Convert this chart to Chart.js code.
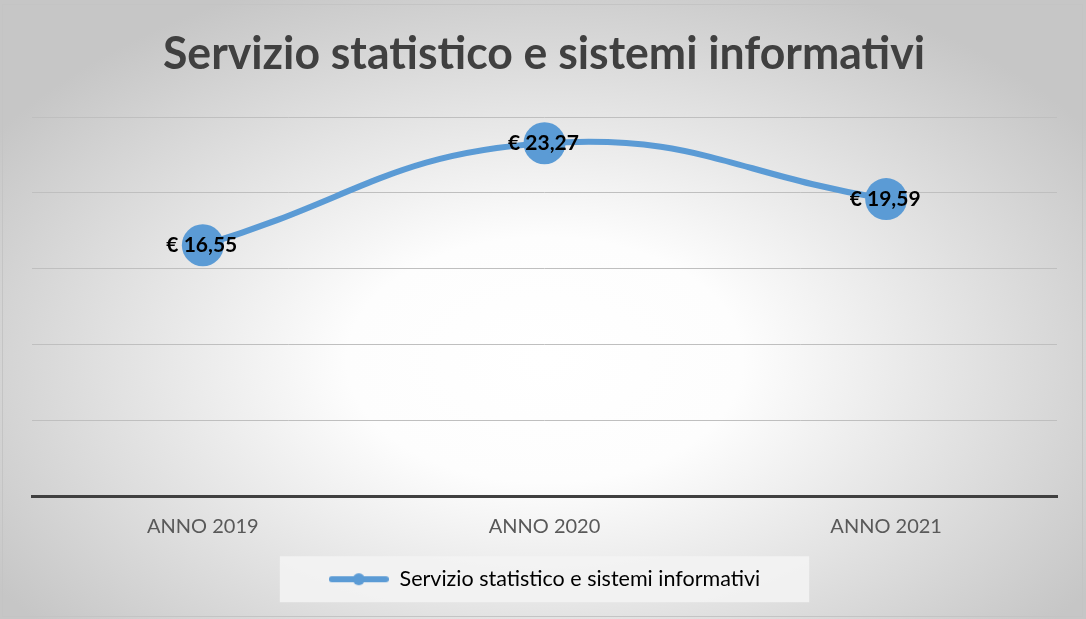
<!DOCTYPE html>
<html lang="it">
<head>
    <meta charset="UTF-8">
    <title>Servizio statistico e sistemi informativi</title>
    <script src="https://cdn.jsdelivr.net/npm/chart.js"></script>
    <style>
        html, body {
            margin: 0;
            padding: 0;
            background: #ffffff;
        }
        #wrap {
            width: 1086px;
            height: 619px;
        }
    </style>
</head>
<body>
    <div id="wrap"><canvas id="chart"></canvas></div>

    <script>
        // dati
        const titolo = 'Servizio statistico e sistemi informativi';
        const anni = ['ANNO 2019', 'ANNO 2020', 'ANNO 2021'];
        const costi = [16.55, 23.27, 19.59];

        const blu = '#5b9bd5';
        const fontFamily = 'Lato, "Open Sans", sans-serif';

        // sfondo sfumato e cornice
        const sfondo = {
            id: 'sfondo',
            beforeDraw(chart) {
                const { ctx, width, height } = chart;
                ctx.save();
                ctx.fillStyle = '#ffffff';
                ctx.fillRect(0, 0, width, height);
                const cx = 545, cy = 360, sy = 0.62;
                ctx.translate(cx, cy);
                ctx.scale(1, sy);
                const g = ctx.createRadialGradient(0, 0, 0, 0, 0, 660);
                g.addColorStop(0, '#ffffff');
                g.addColorStop(0.3, '#fdfdfd');
                g.addColorStop(1, '#c6c6c6');
                ctx.fillStyle = g;
                ctx.fillRect(-cx, -cy / sy, width, height / sy);
                ctx.restore();

                ctx.save();
                ctx.strokeStyle = '#c4c4c4';
                ctx.lineWidth = 1;
                ctx.strokeRect(2.5, 4.5, 1080, 612);
                ctx.restore();

                // riquadro della legenda
                const lg = chart.legend;
                if (lg && lg.legendHitBoxes.length) {
                    const hb = lg.legendHitBoxes[0];
                    ctx.save();
                    ctx.fillStyle = 'rgba(243,243,243,0.9)';
                    ctx.fillRect(hb.left - 49, hb.top + hb.height / 2 - 23, hb.width + 98, 46);
                    ctx.restore();
                }
            },
            afterDraw(chart) {
                // titolo, compresso in larghezza come un carattere stretto
                const { ctx } = chart;
                ctx.save();
                ctx.font = 'bold 46px ' + fontFamily;
                ctx.fillStyle = '#404040';
                ctx.textBaseline = 'middle';
                ctx.textAlign = 'center';
                const w = ctx.measureText(titolo).width;
                const k = 762 / w;
                ctx.translate(544, 54);
                ctx.scale(k, 1);
                ctx.fillText(titolo, 0, 0);
                ctx.restore();
            }
        };

        // etichette dei valori sopra i punti
        const etichette = {
            id: 'etichette',
            afterDatasetsDraw(chart) {
                const { ctx } = chart;
                const meta = chart.getDatasetMeta(0);
                ctx.save();
                ctx.font = 'bold 21px ' + fontFamily;
                ctx.fillStyle = '#000000';
                ctx.textAlign = 'center';
                ctx.textBaseline = 'middle';
                meta.data.forEach((p, i) => {
                    const testo = '€ ' + costi[i].toFixed(2).replace('.', ',');
                    ctx.fillText(testo, p.x - 1, p.y);
                });
                ctx.restore();
            }
        };

        // simbolo della legenda: linea con pallino
        const simbolo = document.createElement('canvas');
        simbolo.width = 60;
        simbolo.height = 14;
        (function () {
            const c = simbolo.getContext('2d');
            c.strokeStyle = blu;
            c.lineWidth = 6;
            c.lineCap = 'round';
            c.beginPath();
            c.moveTo(3, 7);
            c.lineTo(57, 7);
            c.stroke();
            c.fillStyle = blu;
            c.beginPath();
            c.arc(30, 7, 6, 0, Math.PI * 2);
            c.fill();
        })();

        const ctx = document.getElementById('chart').getContext('2d');
        new Chart(ctx, {
            type: 'line',
            data: {
                labels: anni,
                datasets: [{
                    label: titolo,
                    data: costi,
                    borderColor: blu,
                    backgroundColor: blu,
                    borderWidth: 6,
                    pointRadius: 21,
                    pointHoverRadius: 21,
                    pointBorderWidth: 0,
                    pointBackgroundColor: blu,
                    tension: 0.45,
                    fill: false
                }]
            },
            plugins: [sfondo, etichette],
            options: {
                responsive: true,
                maintainAspectRatio: false,
                animation: false,
                layout: {
                    padding: { top: 117, left: 32, right: 29, bottom: 19 }
                },
                plugins: {
                    title: { display: false },
                    tooltip: { enabled: false },
                    legend: {
                        position: 'bottom',
                        labels: {
                            usePointStyle: true,
                            pointStyleWidth: 60,
                            padding: 20,
                            color: '#404040',
                            font: { family: fontFamily, size: 21.5 },
                            generateLabels: (chart) => [{
                                text: titolo,
                                pointStyle: simbolo,
                                fillStyle: blu,
                                strokeStyle: blu,
                                lineWidth: 0,
                                datasetIndex: 0
                            }]
                        }
                    }
                },
                scales: {
                    x: {
                        offset: true,
                        grid: { display: false },
                        border: { color: '#404040', width: 3 },
                        ticks: {
                            color: '#595959',
                            padding: 10,
                            font: { family: fontFamily, size: 20 }
                        }
                    },
                    y: {
                        min: 0,
                        max: 25,
                        ticks: { stepSize: 5, display: false },
                        grid: { color: '#bfbfbf', lineWidth: 1, drawTicks: false },
                        border: { display: false }
                    }
                }
            }
        });
    </script>
</body>
</html>
